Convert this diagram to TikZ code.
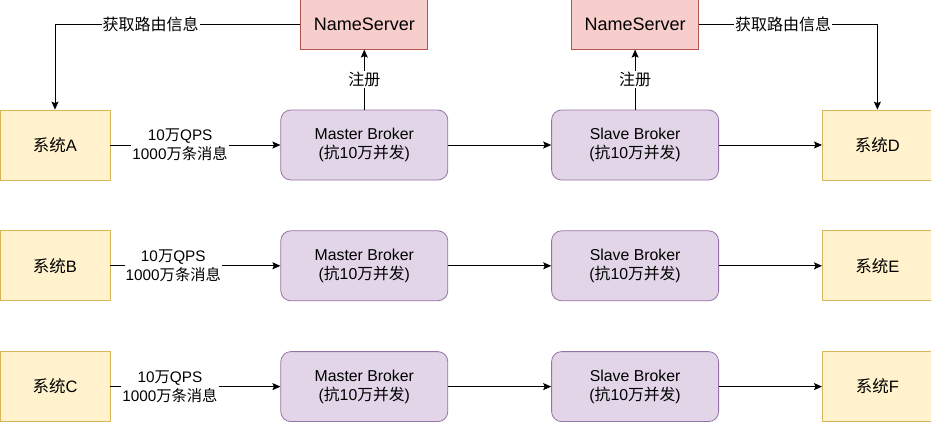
\documentclass[tikz,border=0pt]{standalone}
\usepackage{fontspec}
\setmainfont{Liberation Sans}
\newfontfamily\cjk{Noto Sans CJK SC}
\usetikzlibrary{arrows.meta, positioning}
\definecolor{sysfill}{HTML}{FFF2CC}
\definecolor{sysdraw}{HTML}{D6B656}
\definecolor{brkfill}{HTML}{E1D5E7}
\definecolor{brkdraw}{HTML}{9673A6}
\definecolor{nsfill}{HTML}{F8CECC}
\definecolor{nsdraw}{HTML}{B85450}

\begin{document}
\begin{tikzpicture}[
  x=1pt, y=1pt,
  system/.style={
    rectangle, draw=sysdraw, fill=sysfill, line width=0.8pt,
    minimum width=110pt, minimum height=70pt, inner sep=0pt,
    font=\fontsize{16.5}{19}\selectfont
  },
  broker/.style={
    rectangle, rounded corners=10pt, draw=brkdraw, fill=brkfill, line width=0.8pt,
    minimum width=167pt, minimum height=70pt, inner sep=0pt,
    align=center, font=\fontsize{15.8}{19}\selectfont
  },
  nameserver/.style={
    rectangle, draw=nsdraw, fill=nsfill, line width=0.8pt,
    minimum width=127pt, minimum height=50pt, inner sep=0pt,
    font=\fontsize{18}{21}\selectfont
  },
  flow/.style={-{Stealth[length=8pt,width=7pt,inset=1.5pt]}, line width=0.9pt},
  lbl/.style={fill=white, inner sep=1pt, align=center, font=\fontsize{15.3}{18.5}\selectfont}
]
  \useasboundingbox (0,0) rectangle (931,-421);

  % Row 1
  \node[system] (sysA) at (55,-145) {{\cjk 系统}A};
  \node[broker, right=170pt of sysA] (mstA) {Master Broker\\({\cjk 抗}10{\cjk 万并发})};
  \node[broker, right=103pt of mstA] (slvA) {Slave Broker\\({\cjk 抗}10{\cjk 万并发})};
  \node[system, right=103pt of slvA] (sysD) {{\cjk 系统}D};

  % Row 2
  \node[system, below=50pt of sysA] (sysB) {{\cjk 系统}B};
  \node[broker, below=50pt of mstA] (mstB) {Master Broker\\({\cjk 抗}10{\cjk 万并发})};
  \node[broker, below=50pt of slvA] (slvB) {Slave Broker\\({\cjk 抗}10{\cjk 万并发})};
  \node[system, below=50pt of sysD] (sysE) {{\cjk 系统}E};

  % Row 3
  \node[system, below=50pt of sysB] (sysC) {{\cjk 系统}C};
  \node[broker, below=50pt of mstB] (mstC) {Master Broker\\({\cjk 抗}10{\cjk 万并发})};
  \node[broker, below=50pt of slvB] (slvC) {Slave Broker\\({\cjk 抗}10{\cjk 万并发})};
  \node[system, below=50pt of sysE] (sysF) {{\cjk 系统}F};

  % NameServers
  \node[nameserver, above=60pt of mstA] (nsM) {NameServer};
  \node[nameserver, above=60pt of slvA] (nsS) {NameServer};

  % Message flow
  \draw[flow] (sysA) -- node[lbl, pos=0.41] {10{\cjk 万}QPS\\1000{\cjk 万条消息}} (mstA);
  \draw[flow] (sysB) -- node[lbl, pos=0.37] {10{\cjk 万}QPS\\1000{\cjk 万条消息}} (mstB);
  \draw[flow] (sysC) -- node[lbl, pos=0.35] {10{\cjk 万}QPS\\1000{\cjk 万条消息}} (mstC);
  \draw[flow] (mstA) -- (slvA);
  \draw[flow] (mstB) -- (slvB);
  \draw[flow] (mstC) -- (slvC);
  \draw[flow] (slvA) -- (sysD);
  \draw[flow] (slvB) -- (sysE);
  \draw[flow] (slvC) -- (sysF);

  % Registration and routing
  \draw[flow] (mstA) -- node[lbl, font=\cjk\fontsize{16}{18}\selectfont] {注册} (nsM);
  \draw[flow] (slvA) -- node[lbl, font=\cjk\fontsize{16}{18}\selectfont] {注册} (nsS);
  \draw[flow] (nsM.west) -| node[lbl, pos=0.305, font=\cjk\fontsize{16}{18}\selectfont] {获取路由信息} (sysA.north);
  \draw[flow] (nsS.east) -| node[lbl, pos=0.236, font=\cjk\fontsize{16}{18}\selectfont] {获取路由信息} (sysD.north);
\end{tikzpicture}
\end{document}
